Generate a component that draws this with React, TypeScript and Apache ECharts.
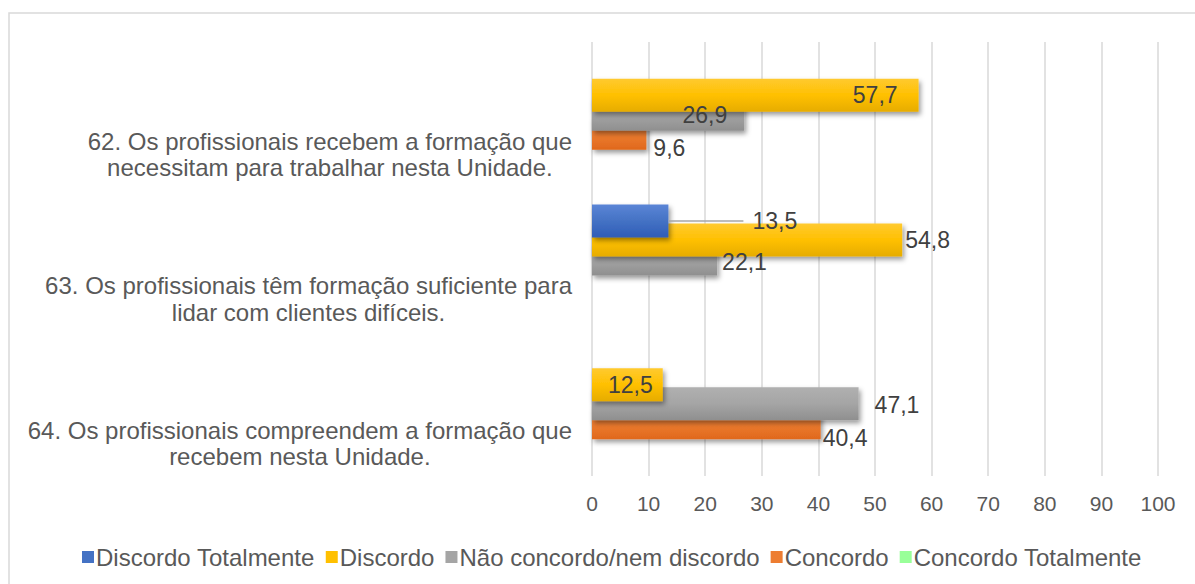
import React, { useEffect, useRef } from "react";
import * as echarts from "echarts";

const categories = [
  "62. Os profissionais recebem a formação que\nnecessitam para trabalhar nesta Unidade.",
  "63. Os profissionais têm formação suficiente para\nlidar com clientes difíceis.",
  "64. Os profissionais compreendem a formação que\nrecebem nesta Unidade.",
];
const seriesNames = [
  "Discordo Totalmente",
  "Discordo",
  "Não concordo/nem discordo",
  "Concordo",
  "Concordo Totalmente",
];
const discordoTotalmente: (number | null)[] = [null, 13.5, null];
const discordo: (number | null)[] = [57.7, 54.8, 12.5];
const naoConcordo: (number | null)[] = [26.9, 22.1, 47.1];
const concordo: (number | null)[] = [9.6, null, 40.4];
const concordoTotalmente: (number | null)[] = [null, null, null];
const xTicks = [0, 10, 20, 30, 40, 50, 60, 70, 80, 90, 100];

const FONT = "'Liberation Sans', Arial, sans-serif";
const fmt = (v: number) => v.toFixed(1).replace(".", ",");

const grad = (a: string, b: string, c: string) =>
  new echarts.graphic.LinearGradient(0, 0, 0, 1, [
    { offset: 0, color: a },
    { offset: 0.5, color: b },
    { offset: 1, color: c },
  ]);

export default function App() {
  const ref = useRef<HTMLDivElement>(null);
  useEffect(() => {
    if (!ref.current) return;
    const chart = echarts.init(ref.current, undefined, { renderer: "svg" });

    const labelBase = {
      show: true,
      color: "#404040",
      fontSize: 23,
      fontFamily: FONT,
      formatter: (p: any) => fmt(p.value),
    };

    // per-point label placement (Excel-like)
    const labelCfg: Record<string, any[]> = {
      dt: [null, { position: "right", distance: 0, formatter: (p: any) => `{l|}{v|${fmt(p.value)}}` }, null],
      d: [
        { position: "insideRight", distance: 21 },
        { position: "right", distance: 3 },
        { position: "insideRight", distance: 10 },
      ],
      n: [
        { position: "insideRight", distance: 17, offset: [0, 1] },
        { position: "right", distance: 5, offset: [0, 3] },
        { position: "right", distance: 16, offset: [0, 1] },
      ],
      c: [
        { position: "right", distance: 7, offset: [0, 15] },
        null,
        { position: "right", distance: 2, offset: [0, 15] },
      ],
      ct: [null, null, null],
    };
    const keys = ["dt", "d", "n", "c", "ct"];

    const values = [discordoTotalmente, discordo, naoConcordo, concordo, concordoTotalmente];

    const shadow = {
      shadowColor: "rgba(0,0,0,0.4)",
      shadowBlur: 5,
      shadowOffsetX: 2,
      shadowOffsetY: 3,
    };

    const colors = [
      grad("#5B85D6", "#4472C4", "#2F5CB8"),
      grad("#FFCA30", "#FFC000", "#E6AC00"),
      grad("#B0B0B0", "#A5A5A5", "#8F8F8F"),
      grad("#F6873A", "#ED7D31", "#E0681C"),
      grad("#A8F7A8", "#99F299", "#86E086"),
    ];
    const legendColors = ["#4472C4", "#FFC000", "#A5A5A5", "#ED7D31", "#99FF99"];

    const barSeries = seriesNames.map((name, i) => ({
      name,
      type: "bar",
      yAxisIndex: 0,
      barWidth: 33,
      barGap: "-42.4%",
      z: 10 - i,
      data: values[i].map((v) => (v == null ? "-" : v)),
      itemStyle: { color: colors[i], ...shadow },
      label: { show: false },
      emphasis: { disabled: true },
    }));

    // transparent twins on a hidden axis: same layout, carry the labels above all bars
    const labelSeries = seriesNames.map((name, i) => ({
      name,
      type: "bar",
      yAxisIndex: 1,
      barWidth: 33,
      barGap: "-42.4%",
      z: 20,
      silent: true,
      data: values[i].map((v, j) =>
        v == null ? "-" : { value: v, label: { ...(labelCfg[keys[i]][j] || {}) } }
      ),
      itemStyle: { color: "rgba(0,0,0,0)" },
      label: {
        ...labelBase,
        rich: {
          l: { width: 75, height: 1.5, backgroundColor: "#A6A6A6" },
          v: { padding: [0, 0, 0, 9], color: "#404040", fontSize: 23, fontFamily: FONT },
        },
      },
      emphasis: { disabled: true },
    }));

    chart.setOption({
      animation: false,
      textStyle: { fontFamily: FONT },
      graphic: [
        {
          type: "rect",
          shape: { x: 9, y: 13, width: 3000, height: 3000 },
          style: { fill: "none", stroke: "#D9D9D9", lineWidth: 1.5 },
          silent: true,
        },
      ],
      grid: { left: 592, right: 37, top: 42, bottom: 108 },
      legend: {
        data: seriesNames.map((n, i) => ({ name: n, itemStyle: { color: legendColors[i] } })),
        left: 77,
        top: 540,
        itemWidth: 12,
        itemHeight: 12,
        itemGap: 11,
        icon: "rect",
        textStyle: { color: "#595959", fontSize: 24, fontFamily: FONT, padding: [0, 0, 0, -3] },
      },
      xAxis: {
        type: "value",
        min: xTicks[0],
        max: xTicks[xTicks.length - 1],
        interval: 10,
        axisLine: { show: false },
        axisTick: { show: false },
        splitLine: { show: true, lineStyle: { color: "#D9D9D9", width: 1.5 } },
        axisLabel: { color: "#595959", fontSize: 21, fontFamily: FONT, margin: 17 },
      },
      yAxis: [
        {
          type: "category",
          inverse: true,
          data: categories,
          axisLine: { show: false },
          axisTick: { show: false },
          axisLabel: {
            interval: 0,
            margin: 20,
            color: "#595959",
            fontSize: 24,
            fontFamily: FONT,
            lineHeight: 26.5,
            padding: [80, 0, 0, 0],
            formatter: (v: string) =>
              v
                .split("\n")
                .map((l) => `{c|${l}}`)
                .join("\n"),
            rich: {
              c: { align: "center", color: "#595959", fontSize: 24, fontFamily: FONT, lineHeight: 26.5 },
            },
          },
        },
        {
          type: "category",
          inverse: true,
          data: categories,
          show: false,
        },
      ],
      series: [...barSeries, ...labelSeries],
    } as any);
    return () => chart.dispose();
  }, []);
  return (
    <div
      ref={ref}
      style={{ position: "absolute", left: 0, top: 0, width: 1195, height: 584, background: "#fff" }}
    />
  );
}
